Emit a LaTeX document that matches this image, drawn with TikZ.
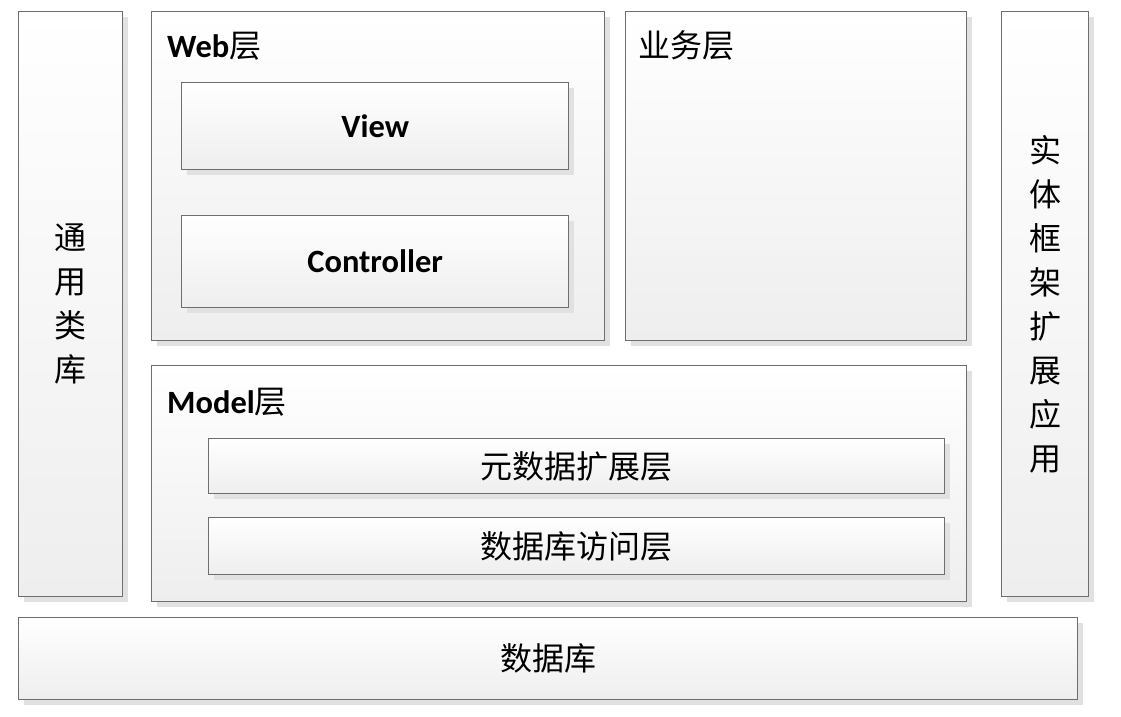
\documentclass[tikz,border=0pt]{standalone}
\usepackage{fontspec}
\setmainfont{Carlito}
\newfontfamily\cjk{Noto Sans CJK SC}
\usetikzlibrary{shadows}
\definecolor{bordergray}{RGB}{110,110,110}
\definecolor{shadowgray}{RGB}{225,225,225}
\definecolor{bottomgray}{RGB}{238,238,238}
\tikzset{
  layerbox/.style={draw=bordergray, line width=1.3pt, top color=white, bottom color=bottomgray,
    drop shadow={shadow xshift=5pt, shadow yshift=-5pt, fill=shadowgray, opacity=1},
    inner sep=0pt, anchor=north west},
  cjktext/.style={font=\cjk\fontsize{32}{44}\selectfont, inner sep=0pt},
  lattext/.style={font=\bfseries\fontsize{32.5}{38}\selectfont, inner sep=0pt},
}
\begin{document}
\begin{tikzpicture}[x=1pt,y=-1pt]
\useasboundingbox (0,0) rectangle (1121,716);
% left column
\node[layerbox, minimum width=104pt, minimum height=585pt] (lib) at (18,11) {};
\node[cjktext, align=center] (libt) at (lib.center) {通\\用\\类\\库};
% Web layer
\node[layerbox, minimum width=453pt, minimum height=329pt] (web) at (151,11) {};
\node[lattext, anchor=base west] (webt) at (167,57) {Web{\cjk\mdseries\fontsize{32}{38}\selectfont 层}};
\node[layerbox, minimum width=387pt, minimum height=87pt] (view) at (181,82) {};
\node[lattext] (viewt) at (view.center) {View};
\node[layerbox, minimum width=387pt, minimum height=92pt] (ctrl) at (181,215) {};
\node[lattext] (ctrlt) at (ctrl.center) {Controller};
% business layer
\node[layerbox, minimum width=341pt, minimum height=329pt] (biz) at (625,11) {};
\node[cjktext, anchor=base west] (bizt) at (638,57) {业务层};
% right column
\node[layerbox, minimum width=87pt, minimum height=585pt] (ef) at (1001,11) {};
\node[cjktext, align=center] (eft) at (ef.center) {实\\体\\框\\架\\扩\\展\\应\\用};
% Model layer
\node[layerbox, minimum width=815pt, minimum height=236pt] (model) at (151,365) {};
\node[lattext, anchor=base west] (modelt) at (167,413) {Model{\cjk\mdseries\fontsize{32}{38}\selectfont 层}};
\node[layerbox, minimum width=736pt, minimum height=55pt] (meta) at (208,438) {};
\node[cjktext] (metat) at (meta.center) {元数据扩展层};
\node[layerbox, minimum width=736pt, minimum height=57pt] (dal) at (208,517) {};
\node[cjktext] (dalt) at (dal.center) {数据库访问层};
% database
\node[layerbox, minimum width=1059pt, minimum height=82pt] (db) at (18,617) {};
\node[cjktext] (dbt) at (db.center) {数据库};
\end{tikzpicture}
\end{document}
